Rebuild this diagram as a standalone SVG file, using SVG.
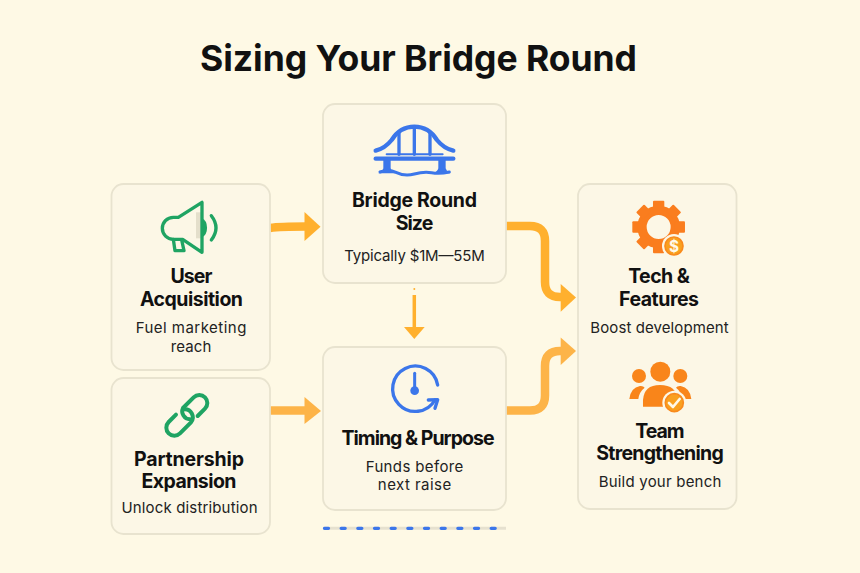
<svg xmlns="http://www.w3.org/2000/svg" width="860" height="573" viewBox="0 0 860 573">
<style>
text{font-family:Inter,"Liberation Sans",sans-serif;text-anchor:middle;fill:#111}
.title{font-size:35.500px;font-weight:700}
.h{font-size:19.500px;font-weight:700}
.s{font-size:15px;font-weight:400;fill:#222}
.card{fill:#fcf7e6;stroke:#e8e3cf;stroke-width:1.800}
.blue{fill:none;stroke:#3b76ea;stroke-linecap:round;stroke-linejoin:round}
.green{fill:none;stroke:#1fa463;stroke-linecap:round;stroke-linejoin:round}
.conn{fill:none;stroke:#ffb02e;stroke-width:8.500}
.head{fill:#ffb02e}
</style>
<rect width="860" height="573" fill="#fef9e5"/>
<text class="title" x="418.500" y="71" textLength="437">Sizing Your Bridge Round</text>

<g id="connectors">
<path class="conn" d="M270 228Q280 226.500 306 226.500"/>
<path class="head" d="M304.500 212L320.500 226.700L304.500 241Z"/>
<path class="conn" d="M270 410.500H306" style="stroke:#fdb448"/>
<path class="head" style="fill:#fdb448" d="M304.500 397L321 411L304.500 424Z"/>
<path class="conn" d="M414.300 295V328" style="stroke-width:3.500"/>
<circle class="head" cx="414.300" cy="289" r="1"/>
<path class="head" d="M404 327H424.700L414.300 339Z"/>
<path class="conn" d="M506 226H530Q545 226 545 241V282Q545 297 560 297H562"/>
<path class="head" d="M560.700 284L576 297.500L560.700 311.700Z"/>
<path class="conn" style="stroke:#fdb448" d="M506 410.500H530Q545 410.500 545 395.500V366Q545 351 560 351H562"/>
<path class="head" style="fill:#fdb448" d="M560.700 337.500L576 351L560.700 365Z"/>
</g>

<g id="node-bridge">
<rect class="card" x="323" y="104" width="183" height="179" rx="12"/>
<g transform="translate(320 100) scale(.3333)">
<path class="blue" stroke-width="13" stroke-linecap="butt" d="M167 152Q195 145 215 120Q240 80 283 80Q326 80 351 120Q371 145 400 152"/>
<path class="blue" stroke-width="10" d="M237 100V163M283 80V163M330 100V163"/>
<path class="blue" stroke-width="6" d="M200 163H368"/>
<path class="blue" stroke-width="13" stroke-linecap="butt" d="M167 176H400"/>
<path fill="#3b76ea" d="M190 172H212V205Q214 214 225 220H175Q188 214 190 205ZM355 172H377V205Q379 214 390 220H340Q353 214 355 205Z"/>
<path class="blue" stroke-width="9" d="M180 216Q205 206 230 218T283 222T335 218T388 216"/>
</g>
<text class="h" x="414.500" y="207" textLength="125">Bridge Round</text>
<text class="h" x="414.500" y="230" textLength="37.700">Size</text>
<text class="s" x="414.500" y="260.500" textLength="140.700">Typically $1M—55M</text>
</g>

<g id="node-user">
<rect class="card" x="111.500" y="184" width="158.500" height="186" rx="12"/>
<g transform="translate(110 180) scale(.3333)">
<path fill="#e4dfcb" d="M258 97H276V175H258Z"/>
<path fill="#1fa463" d="M276 115A22 30 0 0 1 276 172Z"/>
<path class="green" stroke-width="10" d="M205 112L276 67V217L218 178H190A33 33 0 0 1 190 112Z"/>
<path class="green" stroke-width="10" d="M190 178L195 212H222L215 180M304 107Q332 143 304 180"/>
</g>
<text class="h" x="191.500" y="283" textLength="42">User</text>
<text class="h" x="191.500" y="305.500" textLength="103">Acquisition</text>
<text class="s" x="191" y="333" textLength="110.700">Fuel marketing</text>
<text class="s" x="191" y="351.500" textLength="40.700">reach</text>
</g>

<g id="node-partner">
<rect class="card" x="111.500" y="378" width="158.500" height="156" rx="12"/>
<g transform="translate(110 370) scale(.3333)">
<path class="green" stroke-width="12" d="M263 138L285 116A24 24 0 0 0 251 82L219 114A24 24 0 0 0 240 148"/>
<path class="green" stroke-width="12" d="M198 134L176 156A24 24 0 0 0 210 190L243 157A24 24 0 0 0 222 118"/>
</g>
<text class="h" x="189" y="465.500" textLength="110">Partnership</text>
<text class="h" x="189" y="488" textLength="95">Expansion</text>
<text class="s" x="189.500" y="513" textLength="136">Unlock distribution</text>
</g>

<g id="node-timing">
<rect class="card" x="323" y="347" width="183" height="163" rx="12"/>
<g transform="translate(320 285) scale(.3333)">
<path class="blue" stroke-width="10" d="M353 300A68 68 0 1 0 345 345"/>
<path class="blue" stroke-width="10" d="M325 345L353 344L345 370"/>
<path class="blue" stroke-width="9" d="M284 265V312"/>
<circle cx="284" cy="317" r="13" fill="#3b76ea"/>
</g>
<text class="h" x="418" y="445" textLength="153">Timing &amp; Purpose</text>
<text class="s" x="414.500" y="471.500" textLength="97.700">Funds before</text>
<text class="s" x="414.500" y="490" textLength="73.300">next raise</text>
</g>

<g id="node-right">
<rect class="card" x="578" y="184" width="158.500" height="325" rx="12"/>
<g id="icon-gear" transform="translate(500 180) scale(.3333)" fill="#fa7d1e">
<circle cx="476" cy="141" r="50" fill="none" stroke="#fa7d1e" stroke-width="28"/>
<g id="teeth">
<rect x="459" y="62" width="34" height="30" rx="3"/>
<rect x="459" y="62" width="34" height="30" rx="3" transform="rotate(45 476 141)"/>
<rect x="459" y="62" width="34" height="30" rx="3" transform="rotate(90 476 141)"/>
<rect x="459" y="62" width="34" height="30" rx="3" transform="rotate(135 476 141)"/>
<rect x="459" y="62" width="34" height="30" rx="3" transform="rotate(180 476 141)"/>
<rect x="459" y="62" width="34" height="30" rx="3" transform="rotate(225 476 141)"/>
<rect x="459" y="62" width="34" height="30" rx="3" transform="rotate(270 476 141)"/>
<rect x="459" y="62" width="34" height="30" rx="3" transform="rotate(315 476 141)"/>
</g>
<circle cx="522" cy="198" r="36" fill="#fcf7e6"/>
<circle cx="522" cy="198" r="27" fill="#f9a01f" stroke="#f98a1c" stroke-width="5"/>
<text x="522" y="215" style="font-size:46px;font-weight:700;fill:#fff9e8">$</text>
</g>
<text class="h" x="659" y="283" textLength="61.700">Tech &amp;</text>
<text class="h" x="659" y="305.500" textLength="80">Features</text>
<text class="s" x="659.500" y="332.500" textLength="138.300">Boost development</text>
<g id="icon-team" transform="translate(500 335) scale(.3333)" fill="#f9851a">
<circle cx="481" cy="110" r="30"/>
<circle cx="417" cy="123" r="21"/>
<circle cx="541" cy="123" r="21"/>
<path d="M388 192Q392 158 420 153Q430 152 434 158Q418 170 415 192ZM574 192Q570 158 542 153Q532 152 528 158Q544 170 547 192Z"/>
<path d="M429 215V195Q432 150 480 150Q530 150 533 195V215Z"/>
<circle cx="523" cy="203" r="36" fill="#fcf7e6"/>
<circle cx="523" cy="203" r="27" fill="#f9a01f" stroke="#f98a1c" stroke-width="5"/>
<path d="M507 204L519 216L539 192" fill="none" stroke="#fff9e8" stroke-width="8" stroke-linecap="round" stroke-linejoin="round"/>
</g>
<text class="h" x="660" y="437.500" textLength="49.300">Team</text>
<text class="h" x="660" y="460" textLength="127.700">Strengthening</text>
<text class="s" x="660" y="487" textLength="122.700">Build your bench</text>
</g>

<g id="dotted-rule">
<path d="M323 528.300H506" stroke="#e6e1cf" stroke-width="3"/>
<path d="M324.500 528.300H506" stroke="#3b76ea" stroke-width="3.300" stroke-dasharray="4 12.670" stroke-linecap="round"/>
</g>
</svg>
